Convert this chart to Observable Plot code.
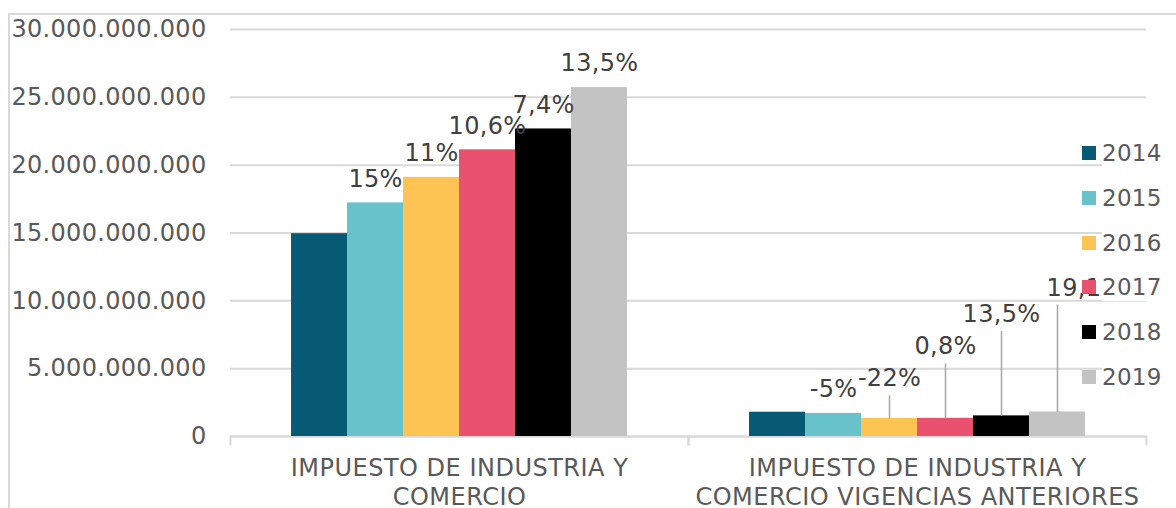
<!DOCTYPE html>
<html><head><meta charset="utf-8">
<script src="https://cdn.jsdelivr.net/npm/d3@7"></script>
<script src="https://cdn.jsdelivr.net/npm/@observablehq/plot@0.6"></script>
<style>
html,body{margin:0;padding:0;background:#fff;overflow:hidden;}
#wrap{position:relative;width:1176px;height:508px;overflow:hidden;font-family:"DejaVu Sans",Verdana,sans-serif;}
#frame{position:absolute;left:8px;top:13px;width:1300px;height:700px;border:2px solid #d9d9d9;box-sizing:border-box;}
#chart{position:absolute;left:0;top:0;}
.item{position:absolute;left:1082px;height:30px;display:flex;align-items:center;}
.sw{width:14px;height:14px;margin-right:6px;}
.lt{font-size:23px;color:#595959;background:#fff;line-height:28px;padding-right:4px;letter-spacing:0.3px;}
#chart svg text{letter-spacing:0.3px;}
#chart svg g.cat text{letter-spacing:0.5px;}
</style></head>
<body><div id="wrap"><div id="frame"></div><div id="chart"></div><div id="legend"></div></div>
<script>
const categories = ["IMPUESTO DE INDUSTRIA Y COMERCIO", "IMPUESTO DE INDUSTRIA Y COMERCIO VIGENCIAS ANTERIORES"];
const years = ["2014", "2015", "2016", "2017", "2018", "2019"];
const ica = [14.95e9, 17.22e9, 19.10e9, 21.13e9, 22.67e9, 25.72e9];
const icaAnteriores = [1.79e9, 1.70e9, 1.33e9, 1.34e9, 1.52e9, 1.81e9];
const icaLabels = ["", "15%", "11%", "10,6%", "7,4%", "13,5%"];
const anterioresLabels = ["", "-5%", "-22%", "0,8%", "13,5%", "19,1%"];
const yTicks = [0, 5e9, 10e9, 15e9, 20e9, 25e9, 30e9];

// styles / layout
const palette = ["#065a73", "#67c3c9", "#fdc453", "#e9526e", "#000000", "#c3c3c3"];
const labelLift = [[0,0,0,0,0,0],[0,0,16,48,78,100]]; // extra px lift of dragged labels
const W = 1176, H = 508, mT = 29, mB = 72, mL = 230, mR = 30;
const yMax = 30e9;
const pxPerUnit = (H - mT - mB) / yMax;

const values = [ica, icaAnteriores];
const labels = [icaLabels, anterioresLabels];
const rows = categories.flatMap((c, ci) => years.map((yr, i) => ({
  cat: c, year: yr, value: values[ci][i], label: labels[ci][i], lift: labelLift[ci][i], group: ci
})));
const fmt = d3.formatLocale({decimal: ",", thousands: ".", grouping: [3], currency: ["$", ""]}).format(",.0f");

const labeled = rows.filter(d => d.label);
const leaders = rows.filter(d => d.label && d.lift > 0);

const plot = Plot.plot({
  width: W, height: H,
  marginTop: mT, marginBottom: mB, marginLeft: mL, marginRight: mR,
  style: {fontFamily: "DejaVu Sans, Verdana, sans-serif", fontSize: "23px", background: "transparent"},
  fx: {domain: categories, padding: 0, axis: null, round: false},
  x: {domain: years, paddingInner: 0, paddingOuter: 1.09, align: 0.5, axis: null, round: false},
  y: {domain: [0, yMax], axis: null},
  color: {domain: years, range: palette},
  marks: [
    Plot.gridY(yTicks, {stroke: "#d9d9d9", strokeOpacity: 1, strokeWidth: 2}),
    Plot.ruleY([0], {stroke: "#d9d9d9", strokeWidth: 2}),
    Plot.frame({anchor: "left", stroke: "#d9d9d9", strokeWidth: 2, insetTop: H - mT - mB, insetBottom: -8}),
    Plot.frame({anchor: "right", stroke: "#d9d9d9", strokeWidth: 2, insetTop: H - mT - mB, insetBottom: -8}),
    Plot.barY(rows, {fx: "cat", x: "year", y: "value", fill: "year"}),
    Plot.link(leaders, {fx: "cat", x1: "year", x2: "year", y1: "value",
      y2: d => d.value + (24 + d.lift - 17) / pxPerUnit, stroke: "#a6a6a6", strokeWidth: 1.5}),
    Plot.text(labeled.filter(d => !(d.group === 1 && d.year === "2019")), {fx: "cat", x: "year",
      y: d => d.value + (24 + d.lift) / pxPerUnit, text: "label", fontSize: 24, fill: "#404040"}),
    Plot.text(labeled.filter(d => d.group === 1 && d.year === "2019"), {fx: "cat", x: "year",
      y: d => d.value + (24 + d.lift) / pxPerUnit, text: "label", fontSize: 24, fill: "#404040", dx: 28}),
    Plot.axisY(yTicks, {anchor: "left", tickSize: 0, tickPadding: 24, tickFormat: fmt, fontSize: 24, color: "#595959", label: null}),
    Plot.axisFx({anchor: "bottom", tickSize: 0, tickPadding: 19, fontSize: 24, lineHeight: 1.21,
      tickFormat: d => d.replace(" Y ", " Y\n"), color: "#595959", label: null, className: "cat"})
  ]
});
document.getElementById("chart").appendChild(plot);

const legend = document.getElementById("legend");
years.forEach((yr, i) => {
  const it = document.createElement("div");
  it.className = "item";
  it.style.top = (153 + i * 44.8 - 15) + "px";
  it.innerHTML = `<div class="sw" style="background:${palette[i]}"></div><span class="lt">${yr}</span>`;
  legend.appendChild(it);
});
</script></body></html>
